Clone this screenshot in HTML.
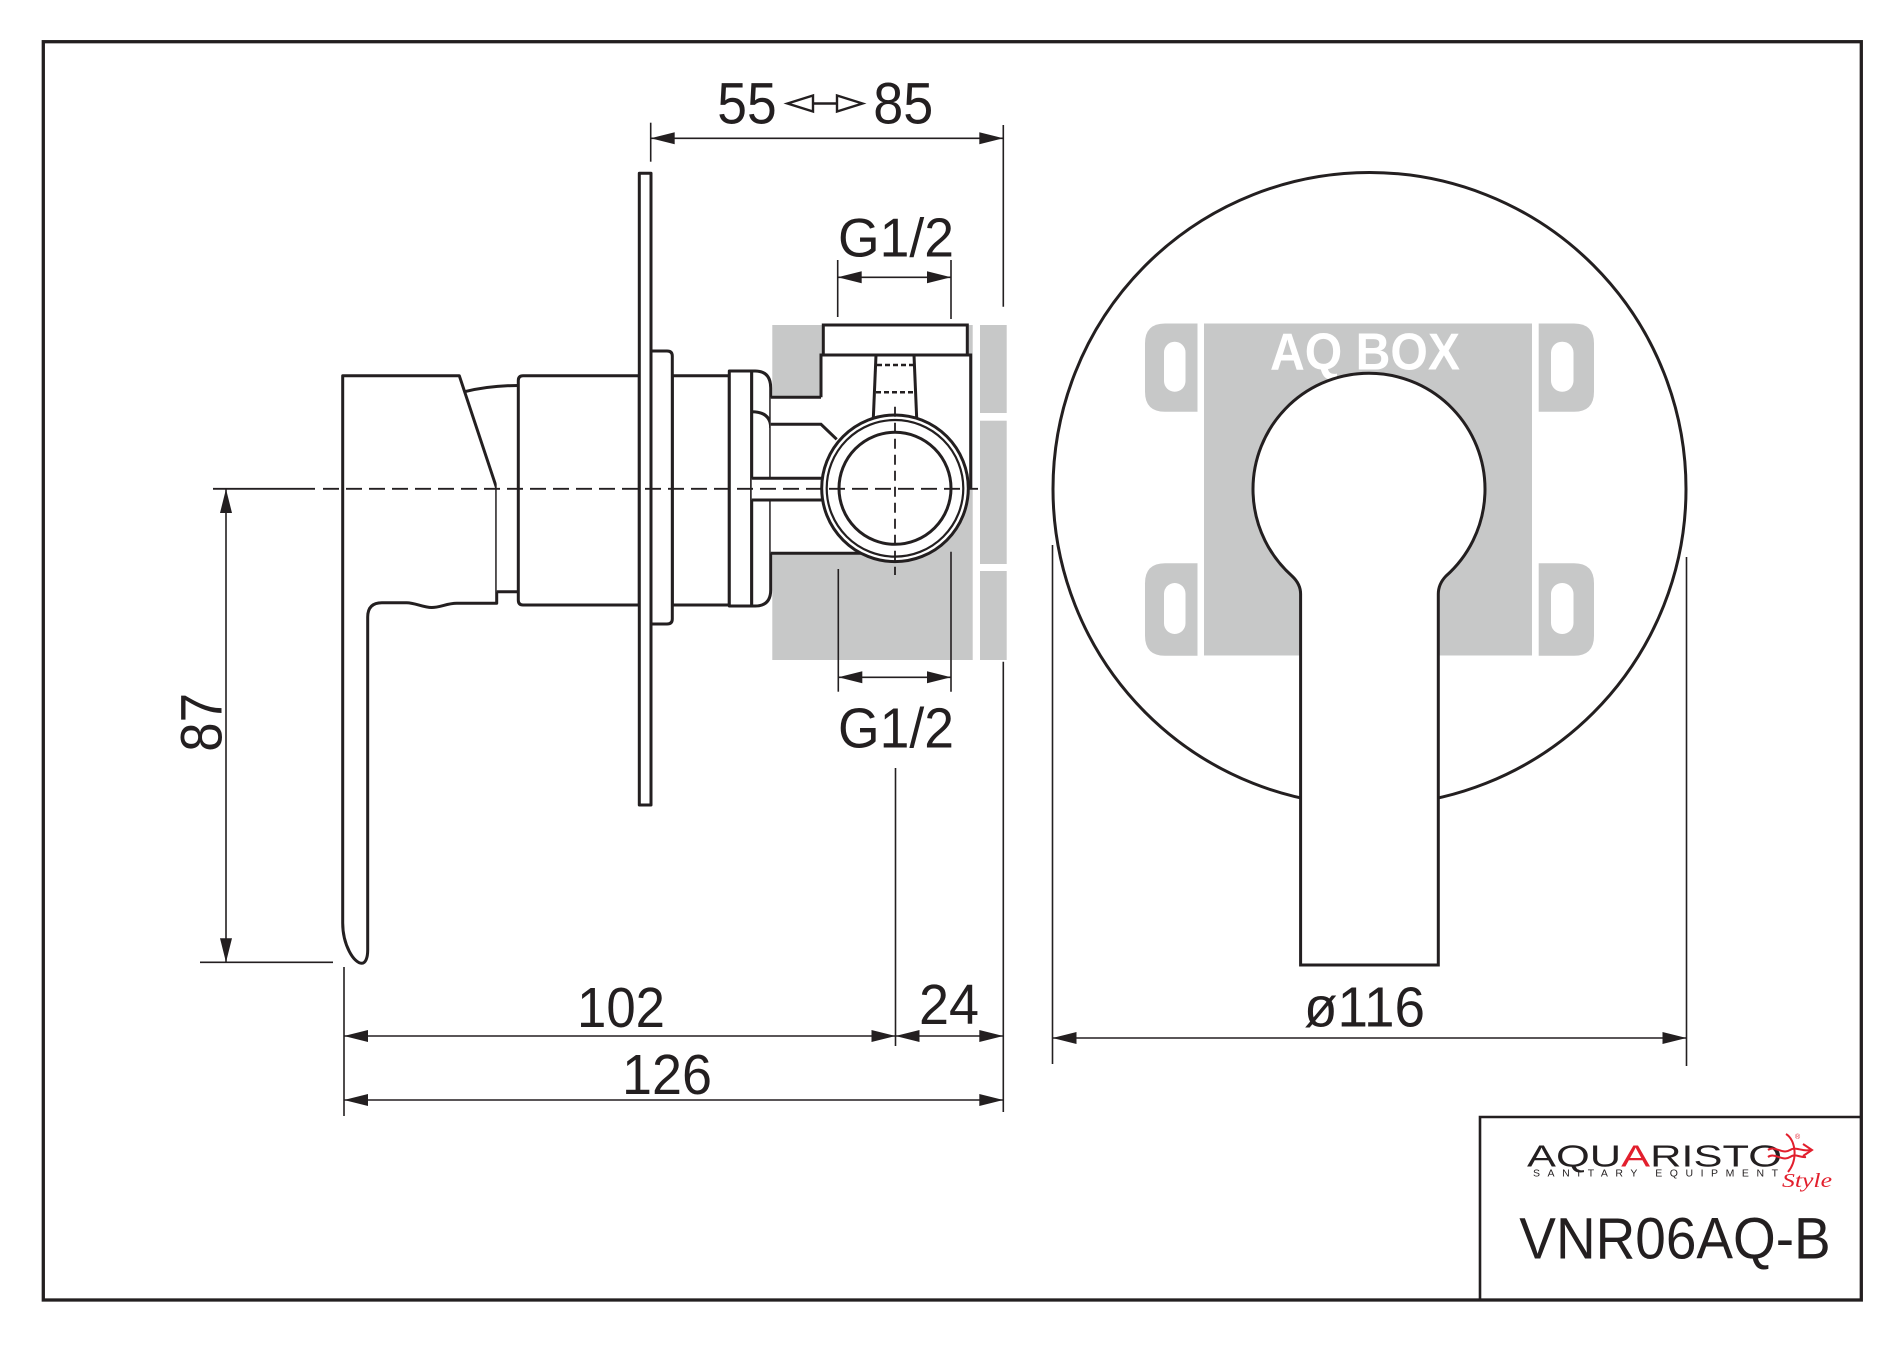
<!DOCTYPE html>
<html>
<head>
<meta charset="utf-8">
<style>
html,body{margin:0;padding:0;background:#fff;}
svg{display:block;}
text{font-family:"Liberation Sans",Arial,sans-serif;fill:#231f20;}
</style>
</head>
<body>
<svg width="1900" height="1352" viewBox="0 0 1900 1352" xmlns="http://www.w3.org/2000/svg">
<rect x="0" y="0" width="1900" height="1352" fill="#fff"/>

<!-- outer border -->
<rect x="43.3" y="41.7" width="1818" height="1258.3" fill="none" stroke="#231f20" stroke-width="3.3"/>

<!-- ===== SIDE VIEW GRAY BOX ===== -->
<g fill="#c7c8c8">
  <rect x="772.3" y="325" width="200.4" height="335"/>
  <rect x="980" y="325" width="26.7" height="88"/>
  <rect x="980" y="420.7" width="26.7" height="143.3"/>
  <rect x="980" y="571" width="26.7" height="89"/>
</g>

<g fill="#fff" stroke="#231f20" stroke-width="3" stroke-linejoin="round">
  <!-- handle lever -->
  <path d="M342.7,375.7 H459.3 L496.7,488.3 V603.3 H456.7 C447,603.3 440,607.5 431.7,607.5 C423,607.5 415,602.7 406.7,602.7 H382 Q367.7,602.7 367.7,617 V950 C367.7,958 365.5,963.3 361.7,963.3 C354,963.3 342.7,945 342.7,923 Z"/>
  <!-- neck between lever and body -->
  <path d="M496.7,391 L518.3,386 V591.7 H496.7" fill="#fff" stroke="none"/>
  <path d="M464.6,391.7 Q490,385.5 518.3,385.5" fill="none"/>
  <path d="M496.7,591.7 H518.3" fill="none"/>
  <!-- body cylinder -->
  <path d="M523,375.7 H639.3 V605 H523 Q518.3,605 518.3,600 V380.5 Q518.3,375.7 523,375.7 Z"/>
  <!-- nut body -->
  <rect x="672.3" y="375.7" width="57" height="229.3"/>
  <!-- flange -->
  <path d="M651,351 H667 Q672.3,351 672.3,356 V619 Q672.3,624 667,624 H651 Z"/>
  <!-- wall plate -->
  <rect x="639.3" y="173.3" width="11.7" height="631.7"/>
  <!-- ring -->
  <rect x="729.3" y="371" width="22.4" height="235"/>
  <!-- end cap -->
  <path d="M751.7,371 H755 Q770.7,371 770.7,388 V590 Q770.7,606 755,606 H751.7 Z"/>
</g>
<g fill="none" stroke="#231f20" stroke-width="3">
  <path d="M751.7,411.7 Q770.7,411.7 770.7,428"/>
</g>

<!-- valve body white fill -->
<path d="M770.7,397.3 H821 V355 H970.7 V488.3 L968,488.3 A73,73 0 0 1 861.8,553.3 H770.7 Z" fill="#fff"/>
<rect x="751.7" y="478.3" width="72" height="21.7" fill="#fff"/>
<g fill="none" stroke="#231f20" stroke-width="3">
  <path d="M821,397.3 V355 H970.7 V488.3"/>
  <path d="M770.7,397.3 H821"/>
  <path d="M770.7,424.3 H821 L836.7,439.3"/>
  <path d="M751.7,478.3 H822.7"/>
  <path d="M751.7,500 H822.7"/>
  <path d="M770.7,553.3 H862"/>
  <rect x="823.3" y="325" width="144" height="30" fill="#fff"/>
  <path d="M876,355 L873.3,418.6"/>
  <path d="M914,355 L916.7,418.6"/>
</g>
<g fill="none" stroke="#231f20" stroke-width="2.5" stroke-dasharray="5 3">
  <path d="M877,365 H914"/>
  <path d="M876,392.3 H915"/>
</g>
<g fill="none" stroke="#231f20">
  <circle cx="895" cy="488.3" r="73.3" stroke-width="3" fill="#fff"/>
  <circle cx="895" cy="488.3" r="68.3" stroke-width="2.2"/>
  <circle cx="895" cy="488.3" r="56" stroke-width="3"/>
</g>

<!-- centerlines -->
<g fill="none" stroke="#231f20" stroke-width="1.8">
  <path d="M213,488.8 H315"/>
  <path d="M323,488.8 H978" stroke-dasharray="16 7"/>
  <path d="M895,406.7 V575" stroke-dasharray="10 6"/>
</g>

<!-- ===== DIMENSION LINES (side view) ===== -->
<g fill="none" stroke="#231f20" stroke-width="1.6">
  <!-- top 55-85 -->
  <path d="M650.7,122.7 V161.7"/>
  <path d="M1003.3,125 V306.7"/>
  <path d="M1003.3,661.7 V1112"/>
  <path d="M650.7,138.3 H1003.3"/>
  <!-- G1/2 top -->
  <path d="M837.7,260 V317"/>
  <path d="M951,260 V319"/>
  <path d="M837.7,277.3 H951"/>
  <!-- G1/2 bottom -->
  <path d="M838.3,569 V691.7"/>
  <path d="M951,551.7 V691.7"/>
  <path d="M838.3,677.3 H951"/>
  <!-- 87 -->
  <path d="M226,489 V962.3"/>
  <path d="M200,962.3 H333"/>
  <!-- 102/24/126 -->
  <path d="M344,967 V1116"/>
  <path d="M895.5,768 V1046"/>
  <path d="M344,1036 H1003.3"/>
  <path d="M344,1100 H1003.3"/>
  <!-- o116 -->
  <path d="M1052.5,545 V1064"/>
  <path d="M1686.5,557 V1066"/>
  <path d="M1052.5,1038 H1686.5"/>
</g>
<g fill="#231f20" stroke="none">
  <!-- top -->
  <polygon points="650.7,138.3 674.7,132.3 674.7,144.3"/>
  <polygon points="1003.3,138.3 979.3,132.3 979.3,144.3"/>
  <!-- G1/2 top -->
  <polygon points="837.7,277.3 861.7,271.3 861.7,283.3"/>
  <polygon points="951,277.3 927,271.3 927,283.3"/>
  <!-- G1/2 bottom -->
  <polygon points="838.3,677.3 862.3,671.3 862.3,683.3"/>
  <polygon points="951,677.3 927,671.3 927,683.3"/>
  <!-- 87 -->
  <polygon points="226,489 220,513 232,513"/>
  <polygon points="226,962.3 220,938.3 232,938.3"/>
  <!-- 102 -->
  <polygon points="344,1036 368,1030 368,1042"/>
  <polygon points="895.5,1036 871.5,1030 871.5,1042"/>
  <!-- 24 -->
  <polygon points="895.5,1036 919.5,1030 919.5,1042"/>
  <polygon points="1003.3,1036 979.3,1030 979.3,1042"/>
  <!-- 126 -->
  <polygon points="344,1100 368,1094 368,1106"/>
  <polygon points="1003.3,1100 979.3,1094 979.3,1106"/>
  <!-- o116 -->
  <polygon points="1052.5,1038 1076.5,1032 1076.5,1044"/>
  <polygon points="1686.5,1038 1662.5,1032 1662.5,1044"/>
</g>

<!-- hollow double arrow 55<->85 -->
<g fill="#fff" stroke="#231f20" stroke-width="2.4" stroke-linejoin="miter">
  <path d="M813,103.5 H837" fill="none"/>
  <polygon points="787.5,103.5 813,95.5 813,111.5"/>
  <polygon points="862.5,103.5 837,95.5 837,111.5"/>
</g>

<!-- dimension texts -->
<g font-size="58">
  <text x="717.3" y="123.3" textLength="59.4" lengthAdjust="spacingAndGlyphs">55</text>
  <text x="873.3" y="123.3" textLength="60" lengthAdjust="spacingAndGlyphs">85</text>
  <text x="838" y="256.7" font-size="55" textLength="116" lengthAdjust="spacingAndGlyphs">G1/2</text>
  <text x="838" y="747.3" font-size="57" textLength="116" lengthAdjust="spacingAndGlyphs">G1/2</text>
  <text transform="translate(221.7,751.7) rotate(-90)" textLength="58.7" lengthAdjust="spacingAndGlyphs">87</text>
  <text x="577" y="1027" font-size="57" textLength="88" lengthAdjust="spacingAndGlyphs">102</text>
  <text x="919" y="1024" font-size="57" textLength="60" lengthAdjust="spacingAndGlyphs">24</text>
  <text x="622" y="1094" font-size="57" textLength="90" lengthAdjust="spacingAndGlyphs">126</text>
  <text x="1304" y="1026.5" font-size="57" textLength="121" lengthAdjust="spacingAndGlyphs">ø116</text>
</g>

<!-- ===== FRONT VIEW ===== -->
<circle cx="1369.5" cy="489" r="316.5" fill="#fff" stroke="#231f20" stroke-width="3"/>
<g fill="#c7c8c8">
  <rect x="1204" y="323.5" width="328" height="332"/>
  <!-- ears -->
  <path d="M1197.5,323.5 V411.7 H1165 Q1145,411.7 1145,391.7 V343.5 Q1145,323.5 1165,323.5 Z"/>
  <path d="M1197.5,563.3 V655.7 H1165 Q1145,655.7 1145,635.7 V583.3 Q1145,563.3 1165,563.3 Z"/>
  <path d="M1538.7,323.5 V411.7 H1574 Q1594,411.7 1594,391.7 V343.5 Q1594,323.5 1574,323.5 Z"/>
  <path d="M1538.7,563.3 V655.7 H1574 Q1594,655.7 1594,635.7 V583.3 Q1594,563.3 1574,563.3 Z"/>
</g>
<g fill="#fff">
  <rect x="1164" y="341.7" width="21.5" height="50" rx="10.7"/>
  <rect x="1164" y="583" width="21.5" height="51" rx="10.7"/>
  <rect x="1551" y="341.7" width="22.5" height="50" rx="11"/>
  <rect x="1551" y="583" width="22.5" height="51" rx="11"/>
</g>
<text x="1270" y="369.3" font-size="52" font-weight="bold" textLength="190" lengthAdjust="spacingAndGlyphs" style="fill:#fff">AQ BOX</text>

<!-- keyhole handle -->
<path d="M1300.6,965 V594 Q1300.6,584 1292,576 A116,116 0 1 1 1446,576 Q1438.3,584 1438.3,594 V965 Z" fill="#fff" stroke="#231f20" stroke-width="3" stroke-linejoin="miter"/>

<!-- ===== TITLE BLOCK ===== -->
<g fill="none" stroke="#231f20" stroke-width="2.6">
  <path d="M1480,1300 V1117 H1861"/>
</g>
<text x="1527" y="1166.7" font-size="31" textLength="255" lengthAdjust="spacingAndGlyphs">AQU<tspan style="fill:#e21f2d">A</tspan>RISTO</text>
<text x="1533" y="1176.7" font-size="10.5" textLength="245" lengthAdjust="spacing">SANITARY EQUIPMENT</text>
<g fill="none" stroke="#e21f2d" stroke-width="2">
  <path d="M1768,1150 C1775,1145 1782,1155 1790,1150 C1796,1146 1802,1152 1810,1150"/>
  <path d="M1768,1157 C1775,1152 1782,1162 1790,1157 C1796,1153 1800,1158 1806,1157"/>
  <path d="M1803,1144 L1812,1150 L1803,1156"/>
  <path d="M1786,1134 C1796,1140 1798,1160 1788,1172"/>
</g>
<text x="1795" y="1139" font-size="7" style="fill:#e21f2d">®</text>
<text x="1782" y="1187" font-size="20" font-style="italic" textLength="50" lengthAdjust="spacingAndGlyphs" style="fill:#e21f2d;font-family:'Liberation Serif',serif">Style</text>
<text x="1519.3" y="1258.3" font-size="58" textLength="311.4" lengthAdjust="spacingAndGlyphs">VNR06AQ-B</text>
</svg>
</body>
</html>
